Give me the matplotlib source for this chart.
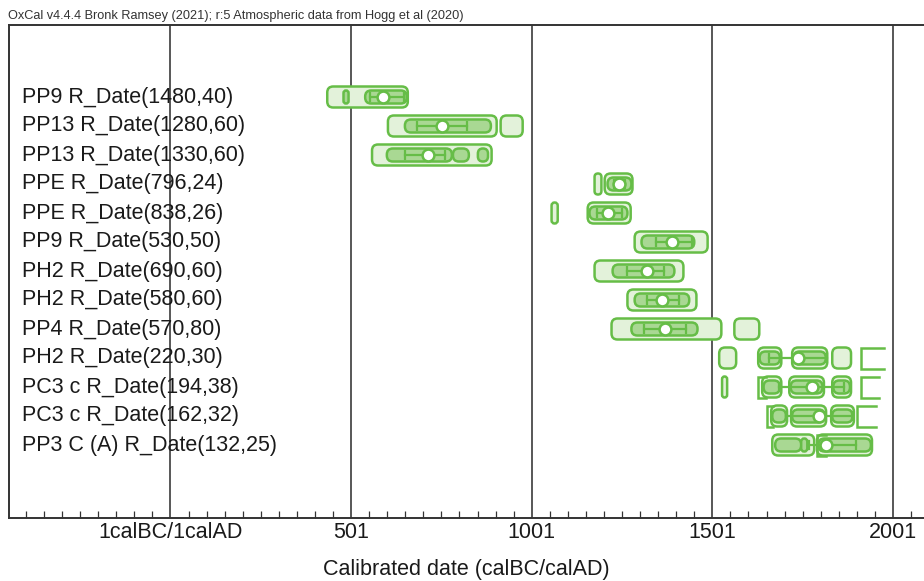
"""OxCal-style multi-plot of calibrated R_Date ranges."""
import matplotlib
matplotlib.use("Agg")
import matplotlib.pyplot as plt
from matplotlib.patches import FancyBboxPatch
from matplotlib.ticker import FixedLocator, MultipleLocator, FixedFormatter

plt.rcParams["font.family"] = ["Liberation Sans", "DejaVu Sans"]

labels = [
    "PP9 R_Date(1480,40)", "PP13 R_Date(1280,60)", "PP13 R_Date(1330,60)",
    "PPE R_Date(796,24)", "PPE R_Date(838,26)", "PP9 R_Date(530,50)",
    "PH2 R_Date(690,60)", "PH2 R_Date(580,60)", "PP4 R_Date(570,80)",
    "PH2 R_Date(220,30)", "PC3 c R_Date(194,38)", "PC3 c R_Date(162,32)",
    "PP3 C (A) R_Date(132,25)",
]
# mean of the calibrated distribution (calAD)
means = [589, 752, 714, 1244, 1211, 1390, 1319, 1363, 1371, 1739, 1777, 1797, 1816]
# mean +/- sigma bar
err_lo = [553, 683, 650, 1230, 1183, 1346, 1266, 1319, 1313, 1658, 1686, 1706, 1769]
err_hi = [647, 821, 761, 1258, 1250, 1446, 1368, 1410, 1429, 1819, 1865, 1888, 1899]
# 95.4% ranges
outer = [
    [(435, 658)],
    [(603, 904), (915, 976)],
    [(559, 890)],
    [(1175, 1194), (1203, 1280)],
    [(1056, 1073), (1156, 1275)],
    [(1286, 1488)],
    [(1175, 1421)],
    [(1266, 1457)],
    [(1222, 1526), (1562, 1631)],
    [(1520, 1567), (1628, 1692), (1722, 1819), (1833, 1885)],
    [(1528, 1542), (1639, 1692), (1714, 1810), (1833, 1885)],
    [(1664, 1708), (1719, 1816), (1830, 1893)],
    [(1667, 1783), (1791, 1943)],
]
# 68.3% ranges
inner = [
    [(480, 494), (540, 655)],
    [(650, 888)],
    [(600, 780), (783, 827), (852, 880)],
    [(1211, 1277)],
    [(1161, 1266)],
    [(1305, 1451)],
    [(1225, 1396)],
    [(1286, 1437)],
    [(1277, 1460)],
    [(1632, 1688), (1726, 1815)],
    [(1643, 1688), (1718, 1806), (1836, 1882)],
    [(1667, 1705), (1722, 1812), (1833, 1889)],
    [(1675, 1747), (1747, 1764), (1795, 1940)],
]
# ranges running off the end of the curve (drawn open on the right)
open_ranges = [[], [], [], [], [], [], [], [], [],
               [(1913, 1976)], [(1913, 1962), (1628, 1650)],
               [(1902, 1954), (1653, 1670)], [(1791, 1815)]]

tick_pos = [1, 501, 1001, 1501, 2001]
tick_lab = ["1calBC/1calAD", "501", "1001", "1501", "2001"]

GREEN = "#66bd47"
LIGHT = "#e3f2da"
MID = "#a9d893"
PX_X = 0.36125   # px per year
PX_Y = 29.0      # px per row
R_PX = 6.0


def rbox(ax, x0, x1, y, h, fc, lw=1.8, z=2):
    w = x1 - x0
    r_x = min(R_PX / PX_X, w / 2)
    aspect = (PX_X / PX_Y)
    patch = FancyBboxPatch((x0, y - h / 2), w, h,
                           boxstyle=f"round,pad=0,rounding_size={r_x}",
                           mutation_aspect=aspect, fc=fc, ec=GREEN, lw=lw, zorder=z)
    ax.add_patch(patch)


fig = plt.figure(figsize=(9.24, 5.81), dpi=100)
ax = fig.add_axes([9 / 924, 63 / 581, 1 - 9 / 924, 493 / 581])
ax.set_xlim(-446, 2087)
ax.set_ylim((518 - 97) / PX_Y, (25 - 97) / PX_Y)

for x in tick_pos:
    ax.axvline(x, color="#4a4a4a", lw=1.3, zorder=1)

H_OUT, H_IN = 21 / PX_Y, 13 / PX_Y
for i in range(len(labels)):
    for a, b in outer[i]:
        rbox(ax, a, b, i, H_OUT, LIGHT, z=2)
    for a, b in inner[i]:
        rbox(ax, a, b, i, H_IN, MID, z=3)
    for a, b in open_ranges[i]:
        y0, y1 = i - H_OUT / 2, i + H_OUT / 2
        ax.plot([b, a, a, b], [y0, y0, y1, y1], color=GREEN, lw=1.8, zorder=3,
                solid_joinstyle="miter")
    ax.plot([err_lo[i], err_hi[i]], [i, i], color=GREEN, lw=1.6, zorder=4)
    for e in (err_lo[i], err_hi[i]):
        ax.plot([e, e], [i - 0.15, i + 0.15], color=GREEN, lw=1.6, zorder=4)
    ax.plot(means[i], i, "o", ms=8.5, mfc="white", mec=GREEN, mew=1.8, zorder=5)
    ax.text(-410, i, labels[i], fontsize=15.5, color="#1a1a1a", va="center",
            ha="left", zorder=6)

ax.xaxis.set_major_locator(FixedLocator(tick_pos))
ax.xaxis.set_major_formatter(FixedFormatter(tick_lab))
ax.xaxis.set_minor_locator(MultipleLocator(50, offset=1))
ax.tick_params(axis="x", which="major", direction="in", length=0, labelsize=15.5,
               pad=3, labelcolor="#1a1a1a")
ax.tick_params(axis="x", which="minor", direction="in", length=5, width=0.9,
               color="#333333")
ax.set_yticks([])
for side, sp in ax.spines.items():
    sp.set_color("#333333")
    sp.set_linewidth(1.4)
ax.spines["right"].set_visible(False)

fig.text(0.5 + 4.5 / 924, 1 - 570 / 581, "Calibrated date (calBC/calAD)",
         fontsize=15.5, color="#1a1a1a", ha="center", va="center")
fig.text(8 / 924, 1 - 16 / 581, "OxCal v4.4.4 Bronk Ramsey (2021); r:5 Atmospheric "
         "data from Hogg et al (2020)", fontsize=9.2, color="#333333", va="center")

fig.savefig("out.png", dpi=100)
